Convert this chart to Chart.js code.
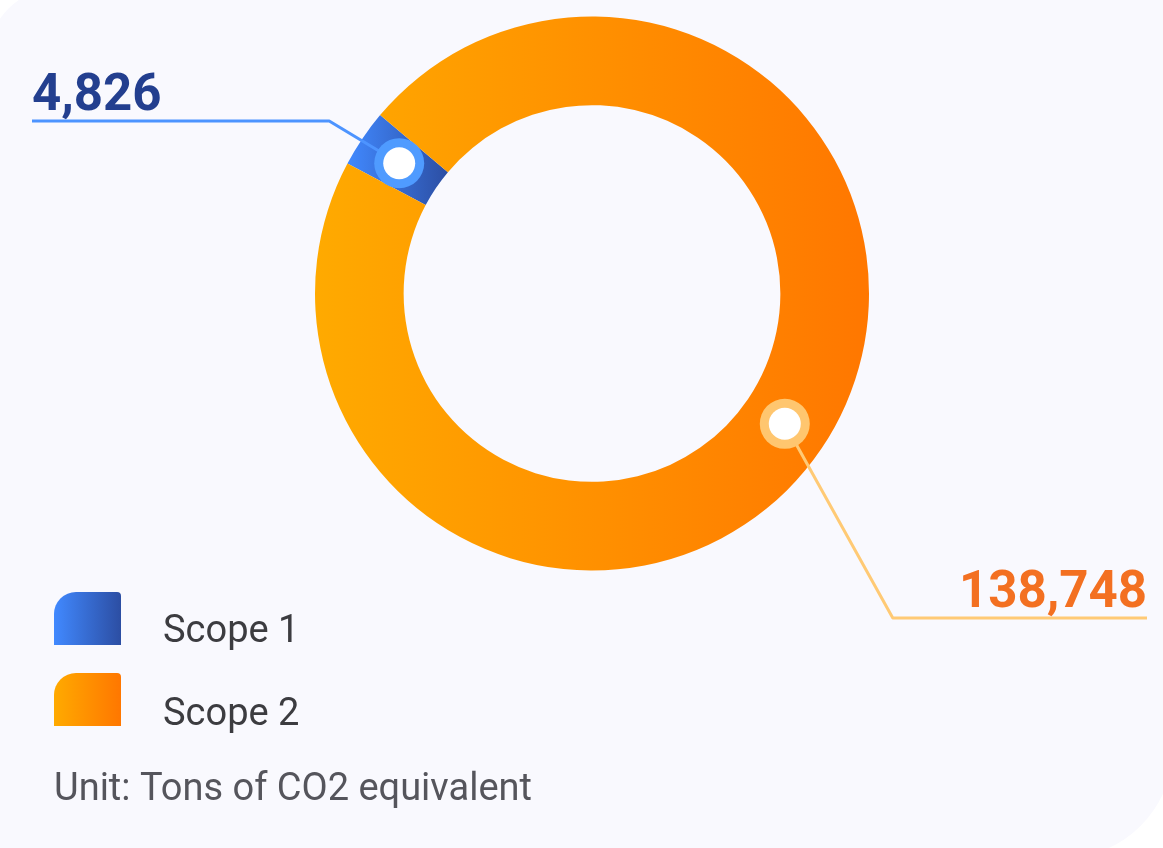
<!DOCTYPE html>
<html>
<head>
  <meta charset="UTF-8">
  <title>Scope 1 / Scope 2 emissions</title>
  <script src="https://cdn.jsdelivr.net/npm/chart.js"></script>
  <style>
    html, body { margin: 0; padding: 0; background: #ffffff; overflow: hidden; }
    body { width: 1163px; height: 848px; position: relative; font-family: Roboto, sans-serif; }
    #card {
      position: absolute; left: -12px; top: -12px; width: 1185px; height: 870px;
      background: #f9f9fe;
      border-radius: 70px 0 110px 0;
    }
    #chart { position: absolute; left: 0; top: 0; }
  </style>
</head>
<body>
  <div id="card"></div>
  <canvas id="chart" width="1163" height="848"></canvas>

  <script>
    // data
    const categories = ['Scope 1', 'Scope 2'];
    const emissions = [4826, 138748];
    const unitNote = 'Unit: Tons of CO2 equivalent';

    // styles
    const gradients = [['#4189ff', '#2c4ea3'], ['#ffaa00', '#ff7700']];
    const ringColors = ['#4f9bff', '#ffc66f'];
    const lineColors = ['#4d94ff', '#ffca75'];
    const labelColors = ['#233f8f', '#f37021'];
    // elbow x offset from marker, y of the horizontal rule, outer end of rule
    const callouts = [
      { dx: -70, lineY: 121, endX: 32, align: 'left' },
      { dx: 108, lineY: 618, endX: 1147, align: 'right' }
    ];
    const legendBox = { x: 54, y: 592, w: 67, h: 53, gap: 81, textX: 163, textGap: 83 };

    const rotationDeg = -62;

    function arcSpan(i) {
      const total = emissions.reduce((a, b) => a + b, 0);
      let start = (rotationDeg - 90) * Math.PI / 180;
      for (let k = 0; k < i; k++) start += 2 * Math.PI * emissions[k] / total;
      return [start, start + 2 * Math.PI * emissions[i] / total];
    }

    function segmentFill(context) {
      const chart = context.chart;
      const area = chart.chartArea;
      const i = context.dataIndex;
      if (!area) return gradients[i][0];
      const cx = (area.left + area.right) / 2;
      const cy = (area.top + area.bottom) / 2;
      const outer = Math.min(area.right - area.left, area.bottom - area.top) / 2;
      let x0 = cx - outer, x1 = cx + outer;
      if (emissions[i] / emissions.reduce((a, b) => a + b, 0) < 0.25) {
        const [a0, a1] = arcSpan(i);
        const inner = outer * 0.68;
        const xs = [];
        [a0, a1, (a0 + a1) / 2].forEach(a => {
          xs.push(cx + Math.cos(a) * outer, cx + Math.cos(a) * inner);
        });
        x0 = Math.min(...xs); x1 = Math.max(...xs);
      }
      const g = chart.ctx.createLinearGradient(x0, 0, x1, 0);
      g.addColorStop(0, gradients[i][0]);
      g.addColorStop(1, gradients[i][1]);
      return g;
    }

    const calloutPlugin = {
      id: 'callouts',
      afterDatasetsDraw(chart) {
        const ctx = chart.ctx;
        const arcs = chart.getDatasetMeta(0).data;
        arcs.forEach((arc, i) => {
          const p = arc.getCenterPoint();
          const c = callouts[i];
          const elbowX = p.x + c.dx;
          ctx.save();
          ctx.strokeStyle = lineColors[i];
          ctx.lineWidth = 3;
          ctx.lineJoin = 'round';
          ctx.beginPath();
          ctx.moveTo(p.x, p.y);
          ctx.lineTo(elbowX, c.lineY);
          ctx.lineTo(c.endX, c.lineY);
          ctx.stroke();

          ctx.fillStyle = ringColors[i];
          ctx.beginPath();
          ctx.arc(p.x, p.y, 25, 0, Math.PI * 2);
          ctx.fill();
          ctx.fillStyle = '#ffffff';
          ctx.beginPath();
          ctx.arc(p.x, p.y, 16, 0, Math.PI * 2);
          ctx.fill();

          ctx.fillStyle = labelColors[i];
          ctx.font = 'bold 51px Roboto';
          ctx.textAlign = c.align;
          ctx.textBaseline = 'alphabetic';
          ctx.fillText(emissions[i].toLocaleString('en-US'), c.endX, c.lineY - 11);
          ctx.restore();
        });

        // legend
        categories.forEach((name, i) => {
          const b = legendBox;
          const y = b.y + i * b.gap;
          const r1 = 22, r2 = 4;
          const g = ctx.createLinearGradient(b.x, 0, b.x + b.w, 0);
          g.addColorStop(0, gradients[i][0]);
          g.addColorStop(1, gradients[i][1]);
          ctx.save();
          ctx.fillStyle = g;
          ctx.beginPath();
          ctx.moveTo(b.x, y + b.h);
          ctx.lineTo(b.x, y + r1);
          ctx.arcTo(b.x, y, b.x + r1, y, r1);
          ctx.lineTo(b.x + b.w - r2, y);
          ctx.arcTo(b.x + b.w, y, b.x + b.w, y + r2, r2);
          ctx.lineTo(b.x + b.w, y + b.h);
          ctx.closePath();
          ctx.fill();
          ctx.fillStyle = '#3c3c40';
          ctx.font = '38px Roboto';
          ctx.textBaseline = 'alphabetic';
          ctx.fillText(name, b.textX, b.y + 50 + i * b.textGap);
          ctx.restore();
        });

        ctx.save();
        ctx.fillStyle = '#55555c';
        ctx.font = '38px Roboto';
        ctx.textBaseline = 'alphabetic';
        ctx.fillText(unitNote, legendBox.x, 800);
        ctx.restore();
      }
    };

    new Chart(document.getElementById('chart').getContext('2d'), {
      type: 'doughnut',
      data: {
        labels: categories,
        datasets: [{
          data: emissions,
          backgroundColor: segmentFill,
          borderWidth: 0,
          hoverOffset: 0
        }]
      },
      options: {
        responsive: false,
        animation: false,
        devicePixelRatio: 1,
        events: [],
        cutout: '68%',
        rotation: rotationDeg,
        layout: { padding: { left: 315, right: 294, top: 16, bottom: 277 } },
        plugins: {
          legend: { display: false },
          tooltip: { enabled: false }
        }
      },
      plugins: [calloutPlugin]
    });
  </script>
</body>
</html>
